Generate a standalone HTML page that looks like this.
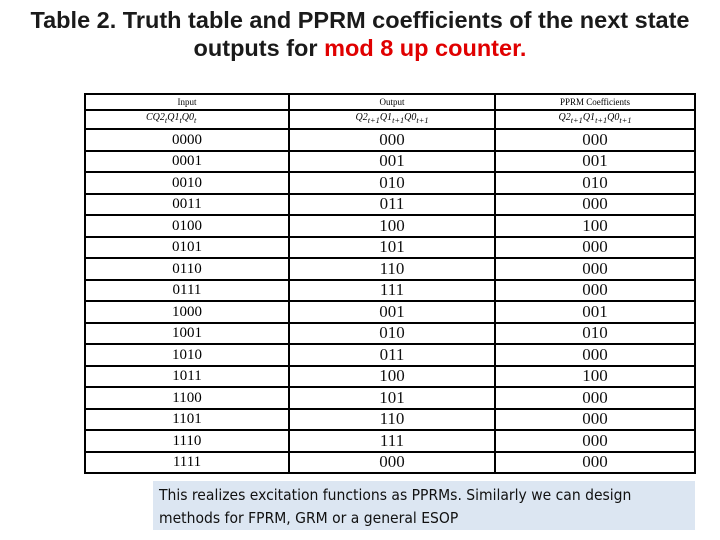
<!DOCTYPE html>
<html><head><meta charset="utf-8"><style>
body{margin:0;width:720px;height:540px;background:#fff;position:relative;overflow:hidden;font-family:"Liberation Serif",serif}
#title{position:absolute;left:0;top:6px;width:720px;text-align:center;font:bold 23.5px/28px "Liberation Sans",sans-serif;color:#1a1a1a}
#title span{color:#e00000}
table{position:absolute;left:84px;top:93px;width:612px;border-collapse:collapse}
td{border:2px solid #000;text-align:center;padding:0;height:19.5px;font-size:15px;line-height:18px}
td.c1{width:202px}td.c2{width:204px}
td.o{font-size:17px;color:#111}
tr.h td{font-size:9px;height:14px;line-height:13px}
tr.s td{font-size:10px;font-style:italic;height:15px;line-height:14px}
#note{position:absolute;left:153px;top:481px;width:530px;height:40px;padding:3px 6px 6px 6px;background:#dce6f2;font:15.5px/23px "DejaVu Sans Condensed","Liberation Sans Narrow",sans-serif;color:#111}
#note div{width:495px}
</style></head><body>
<div id="title">Table 2. Truth table and PPRM coefficients of the next state<br>outputs for <span>mod 8 up counter.</span></div>
<table>
<tr class="h"><td class="c1">Input</td><td class="c2">Output</td><td>PPRM Coefficients</td></tr>
<tr class="s"><td style="text-align:left;padding-left:60px">CQ2<sub>t</sub>Q1<sub>t</sub>Q0<sub>t</sub></td><td>Q2<sub>t+1</sub>Q1<sub>t+1</sub>Q0<sub>t+1</sub></td><td>Q2<sub>t+1</sub>Q1<sub>t+1</sub>Q0<sub>t+1</sub></td></tr>
<tbody id="tb"></tbody>
</table>
<div id="note"><div>This realizes excitation functions as PPRMs. Similarly we can design methods for FPRM, GRM or a general ESOP</div></div>
<script>
const inputs=["0000","0001","0010","0011","0100","0101","0110","0111","1000","1001","1010","1011","1100","1101","1110","1111"];
const outputs=["000","001","010","011","100","101","110","111","001","010","011","100","101","110","111","000"];
const coeffs=["000","001","010","000","100","000","000","000","001","010","000","100","000","000","000","000"];
const tb=document.getElementById('tb');
inputs.forEach((v,i)=>{
const tr=document.createElement('tr');


[[v,''],[outputs[i],'o'],[coeffs[i],'o']].forEach(([t,c])=>{
const td=document.createElement('td');td.textContent=t;if(c)td.className=c;


tr.appendChild(td);});
tb.appendChild(tr);});
</script>
</body></html>
